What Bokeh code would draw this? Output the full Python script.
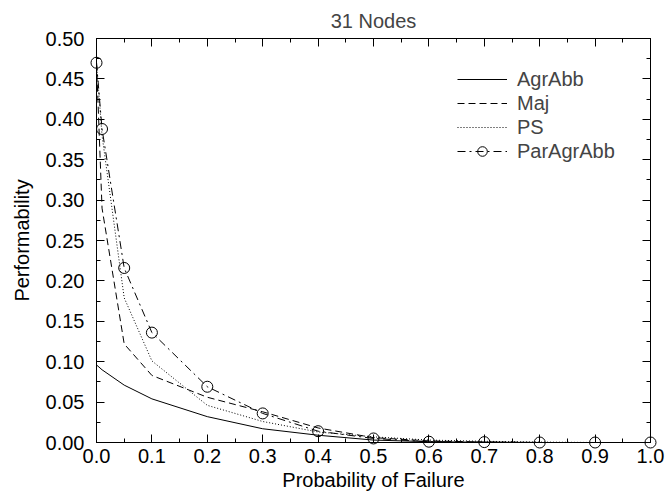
from bokeh.plotting import figure
from bokeh.models import (FixedTicker, LinearAxis, Range1d, Legend, LegendItem,
                          NumeralTickFormatter, CustomJSTickFormatter)
from bokeh.embed import file_html
from bokeh.resources import INLINE

x = [0.0, 0.01, 0.05, 0.1, 0.2, 0.3, 0.4, 0.5, 0.6, 0.7, 0.8, 0.9, 1.0]
agr_abb = [0.096, 0.090, 0.071, 0.054, 0.032, 0.017, 0.009, 0.003, 0.001, 0.0003, 0.0, 0.0, 0.0]
maj = [0.47, 0.29, 0.122, 0.083, 0.056, 0.038, 0.018, 0.006, 0.002, 0.0005, 0.0, 0.0, 0.0]
ps = [0.47, 0.38, 0.179, 0.101, 0.046, 0.026, 0.013, 0.007, 0.003, 0.0015, 0.0005, 0.0, 0.0]
par_agr_abb = [0.47, 0.388, 0.216, 0.136, 0.069, 0.036, 0.014, 0.005, 0.001, 0.0005, 0.0, 0.0, 0.0]

x_ticks = [0.0, 0.1, 0.2, 0.3, 0.4, 0.5, 0.6, 0.7, 0.8, 0.9, 1.0]
x_minor = [0.05, 0.15, 0.25, 0.35, 0.45, 0.55, 0.65, 0.75, 0.85, 0.95]
y_ticks = [0.0, 0.05, 0.1, 0.15, 0.2, 0.25, 0.3, 0.35, 0.4, 0.45, 0.5]
y_minor = [0.025, 0.075, 0.125, 0.175, 0.225, 0.275, 0.325, 0.375, 0.425, 0.475]

FONT = "Liberation Sans"

p = figure(width=667, height=500, output_backend="svg", toolbar_location=None,
           x_range=Range1d(0, 1), y_range=Range1d(0, 0.5),
           title="31 Nodes", x_axis_label="Probability of Failure",
           y_axis_label="Performability",
           min_border_left=96, min_border_right=17, min_border_top=38, min_border_bottom=58)
p.background_fill_color = "white"
p.border_fill_color = "white"
p.grid.visible = False
p.outline_line_color = "black"
p.outline_line_width = 1

p.title.align = "center"
p.title.text_font = FONT
p.title.text_font_style = "normal"
p.title.text_font_size = "20px"
p.title.standoff = 13

def style_axis(ax, ticks, minor, show_labels, fmt):
    ax.ticker = FixedTicker(ticks=ticks, minor_ticks=minor)
    ax.major_tick_in = 8
    ax.major_tick_out = 0
    ax.minor_tick_in = 4
    ax.minor_tick_out = 0
    ax.axis_line_color = "black"
    ax.major_tick_line_color = "black"
    ax.minor_tick_line_color = "black"
    ax.major_label_text_font = FONT
    ax.major_label_text_color = "black"
    ax.axis_label_text_font = FONT
    ax.axis_label_text_font_style = "normal"
    ax.axis_label_text_font_size = "20px"
    ax.axis_label_text_color = "black"
    if show_labels:
        ax.formatter = NumeralTickFormatter(format=fmt)
        ax.major_label_text_font_size = "20px"
    else:
        ax.formatter = CustomJSTickFormatter(code="return ''")
        ax.major_label_text_font_size = "1px"
        ax.major_label_standoff = 0

style_axis(p.xaxis[0], x_ticks, x_minor, True, "0.0")
style_axis(p.yaxis[0], y_ticks, y_minor, True, "0.00")
p.xaxis[0].major_label_standoff = 6
p.xaxis[0].axis_label_standoff = 3
p.yaxis[0].major_label_standoff = 12
p.yaxis[0].axis_label_standoff = 10

top = LinearAxis()
style_axis(top, x_ticks, x_minor, False, "0.0")
right = LinearAxis()
style_axis(right, y_ticks, y_minor, False, "0.00")
p.add_layout(top, "above")
p.add_layout(right, "right")

r1 = p.line(x, agr_abb, line_color="black", line_width=1)
r2 = p.line(x, maj, line_color="black", line_width=1, line_dash="7 4")
r3 = p.line(x, ps, line_color="black", line_width=1, line_dash="1 2")
r4 = p.line(x, par_agr_abb, line_color="black", line_width=1, line_dash="8 4 2 4")
r5 = p.scatter(x, par_agr_abb, marker="circle", size=11, fill_color=None,
               line_color="black", line_width=1, level="overlay")

legend = Legend(items=[
    LegendItem(label="AgrAbb", renderers=[r1]),
    LegendItem(label="Maj", renderers=[r2]),
    LegendItem(label="PS", renderers=[r3]),
    LegendItem(label="ParAgrAbb", renderers=[r4, r5]),
], location=(361, 279))
legend.border_line_color = None
legend.background_fill_alpha = 0
legend.label_text_font = FONT
legend.label_text_font_size = "20px"
legend.glyph_width = 50
legend.label_standoff = 10
legend.spacing = 0
legend.label_height = 24
legend.glyph_height = 24
legend.padding = 0
legend.margin = 0
p.add_layout(legend, "center")

open("out.html", "w").write(file_html(p, INLINE))
